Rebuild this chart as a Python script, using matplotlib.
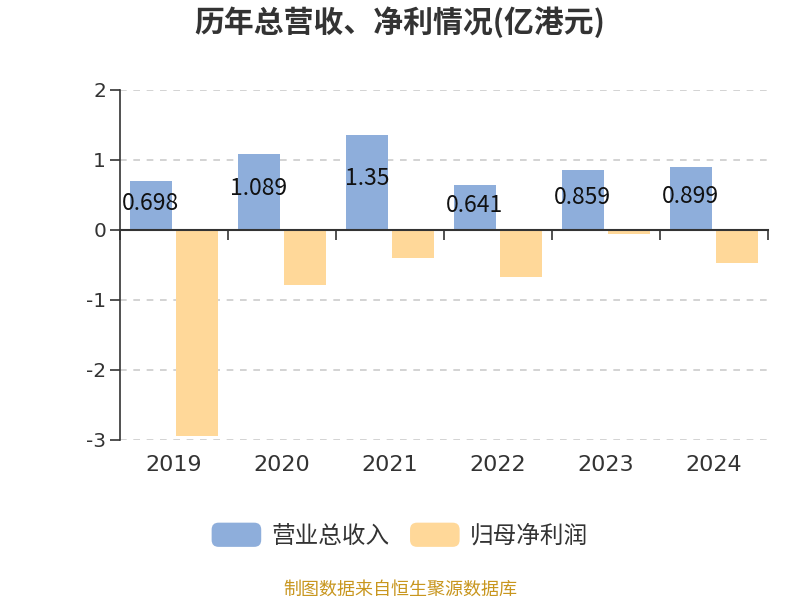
import matplotlib
matplotlib.use("Agg")
import matplotlib.pyplot as plt
from matplotlib.patches import FancyBboxPatch
from matplotlib.legend_handler import HandlerPatch
import numpy as np

plt.rcParams['font.family'] = ['Noto Sans CJK SC', 'DejaVu Sans']
plt.rcParams['axes.unicode_minus'] = False

years = ["2019", "2020", "2021", "2022", "2023", "2024"]
revenue = [0.698, 1.089, 1.35, 0.641, 0.859, 0.899]
profit = [-2.94, -0.78, -0.40, -0.67, -0.06, -0.47]
rev_labels = ["0.698", "1.089", "1.35", "0.641", "0.859", "0.899"]

c_rev = "#8eaedb"
c_pro = "#ffd899"
num_font = ['DejaVu Sans']

fig = plt.figure(figsize=(8, 6), dpi=100)
ax = fig.add_axes([0.15, 0.2667, 0.81, 0.5833])

x = np.arange(len(years))
w = 0.385
b1 = ax.bar(x - 0.215, revenue, w, color=c_rev, label="营业总收入")
b2 = ax.bar(x + 0.215, profit, w, color=c_pro, label="归母净利润")

# 数值标签 (柱子中部偏上)
for xi, v, s in zip(x, revenue, rev_labels):
    ax.text(xi - 0.215, v * 0.54, s, ha="center", va="center", fontsize=16.5, color="#111111")

ax.set_xlim(-0.5, len(years) - 0.5)
ax.set_ylim(-3, 2)
ax.set_yticks([-3, -2, -1, 0, 1, 2])
ax.tick_params(axis="y", length=7, width=1.2, color="#333333", labelsize=14.5, labelcolor="#333333", pad=3)
for lab in ax.get_yticklabels():
    lab.set_family(num_font)
for yv in [-3, -2, -1, 1, 2]:
    ax.axhline(yv, color="#cccccc", lw=1.2, ls=(0, (4, 4)), zorder=0)

ax.spines["top"].set_visible(False)
ax.spines["right"].set_visible(False)
ax.spines["left"].set_color("#333333")
ax.spines["left"].set_linewidth(1.2)
ax.spines["bottom"].set_position(("data", 0))
ax.spines["bottom"].set_color("#333333")
ax.spines["bottom"].set_linewidth(1.5)
ax.set_xticks(x, years)
ax.set_xticks(np.arange(len(years) + 1) - 0.5, minor=True)
ax.tick_params(axis="x", which="major", length=0, labelsize=16, labelcolor="#333333", pad=162)
ax.tick_params(axis="x", which="minor", length=7, width=1.2, color="#333333", direction="out")
for lab in ax.get_xticklabels():
    lab.set_family(num_font)


class RoundHandler(HandlerPatch):
    def create_artists(self, legend, orig_handle, xdescent, ydescent, width, height, fontsize, trans):
        p = FancyBboxPatch((-xdescent, -ydescent), width, height,
                           boxstyle="round,pad=0,rounding_size=5",
                           facecolor=orig_handle.get_facecolor(), edgecolor="none", transform=trans)
        return [p]


fig.legend(handles=[b1.patches[0], b2.patches[0]], labels=["营业总收入", "归母净利润"],
           loc="center", bbox_to_anchor=(0.5, 0.108), ncol=2, frameon=False,
           fontsize=17, handlelength=2.1, handleheight=1.2, columnspacing=0.85, handletextpad=0.45,
           labelcolor="#333333",
           handler_map={b1.patches[0]: RoundHandler(), b2.patches[0]: RoundHandler()})

fig.text(0.5, 0.963, "历年总营收、净利情况(亿港元)", ha="center", va="center",
         fontsize=21.5, fontweight="bold", color="#333333")
fig.text(0.5, 0.017, "制图数据来自恒生聚源数据库", ha="center", va="center",
         fontsize=13, color="#c8961e")

fig.savefig("out.png", dpi=100)
